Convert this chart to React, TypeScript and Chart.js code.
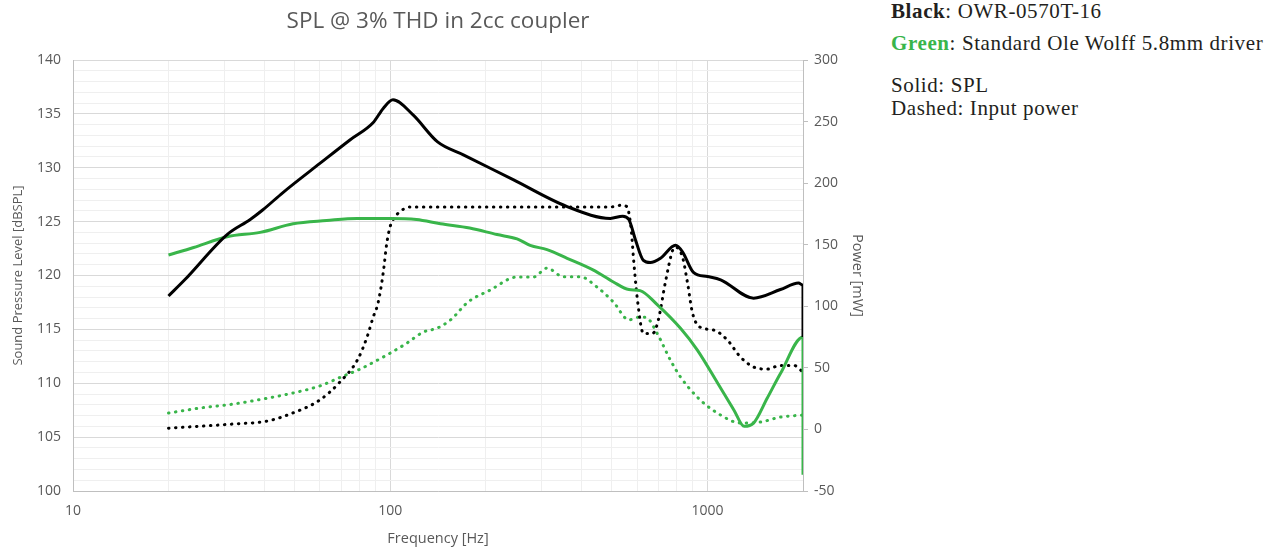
import React, { useEffect, useRef } from "react";
import { Chart, registerables } from "chart.js";

Chart.register(...registerables);

// ---- Data ----
const blackSplFreq = [20, 22.5, 30.6, 36.2, 39.7, 45.9, 60, 74.8, 88.4, 95, 102, 118, 141, 170, 244, 361, 494, 540, 565, 593, 628, 660, 711, 793, 834, 903, 1000, 1100, 1397, 1698, 1936, 2000, 2000];
const blackSplDb = [118.1, 119.6, 123.8, 125.2, 126.1, 127.7, 130.4, 132.6, 134.2, 135.5, 136.3, 134.9, 132.4, 131.2, 128.9, 126.4, 125.3, 125.5, 125.2, 123.3, 121.4, 121.2, 121.6, 122.8, 122.2, 120.3, 119.9, 119.6, 117.9, 118.7, 119.3, 119.1, 114.3];

const greenSplFreq = [20, 24, 30.6, 38.9, 49.4, 63, 78.7, 100, 121, 144, 178, 217, 251, 276, 312, 361, 437, 505, 565, 613, 694, 822, 928, 1077, 1212, 1305, 1397, 1542, 1698, 2000, 2000];
const greenSplDb = [121.9, 122.6, 123.6, 124.0, 124.8, 125.1, 125.3, 125.3, 125.2, 124.8, 124.4, 123.8, 123.4, 122.8, 122.4, 121.6, 120.5, 119.4, 118.7, 118.6, 117.3, 115.1, 113.1, 110.0, 107.5, 106.0, 106.3, 108.6, 110.9, 114.3, 101.5];

const blackPowFreq = [20, 32, 41, 48.3, 60, 69.4, 78.8, 84.5, 88.3, 91.5, 95, 97.5, 100, 103.5, 107, 115, 200, 300, 494, 532, 560, 565, 575, 585, 600, 628, 672, 700, 736, 777, 793, 834, 865, 897, 948, 1046, 1155, 1270, 1397, 1542, 1698, 1872, 2000];
const blackPowMw = [1, 4.4, 6.8, 12.5, 23.9, 38.5, 56.4, 75, 91, 102.6, 127, 151, 165, 172.5, 176.6, 180.6, 180.6, 180.6, 180.6, 182, 180.6, 176, 162, 137.6, 107.5, 78, 78, 89, 119, 145.7, 148, 140, 119, 94.5, 83, 80.7, 72.6, 58.8, 50.7, 49, 52, 52, 46.5];

const greenPowFreq = [20, 25.2, 32, 39.7, 49.4, 60, 70, 80.3, 95, 100, 112.7, 127, 141, 155, 176, 206, 251, 283, 312, 351, 397, 448, 505, 565, 613, 645, 694, 765, 822, 948, 1100, 1270, 1468, 1698, 2000];
const greenPowMw = [13.3, 17.4, 20.6, 24.7, 29.6, 35.3, 42.6, 49, 58.8, 62, 70, 79, 82.4, 89, 103.5, 113, 123.8, 123.8, 131, 124, 124, 115.7, 103.5, 89, 91.3, 90.5, 78, 56, 42.6, 24, 11.7, 5.2, 6, 10, 11.7];

const xTickValues = [10, 20, 30, 40, 50, 60, 70, 80, 90, 100, 200, 300, 400, 500, 600, 700, 800, 900, 1000, 2000];
const xLabelValues = [10, 100, 1000];

const BLACK = "#000000";
const GREEN = "#39b54a";
const TEXT = "#595959";
const GRID_MINOR = "#efefef";
const GRID_MAJOR = "#d9d9d9";
const AXIS = "#bfbfbf";

const pts = (xs: number[], ys: number[]) => xs.map((x, i) => ({ x, y: ys[i] }));

export default function App() {
  const ref = useRef<HTMLCanvasElement | null>(null);

  useEffect(() => {
    if (!ref.current) return;
    const sans = "'Open Sans', 'Noto Sans', sans-serif";
    const chart = new Chart(ref.current, {
      type: "line",
      data: {
        datasets: [
          {
            label: "Black SPL",
            data: pts(blackSplFreq, blackSplDb),
            yAxisID: "y",
            borderColor: BLACK,
            borderWidth: 3,
            pointRadius: 0,
            cubicInterpolationMode: "monotone",
            order: 0,
          },
          {
            label: "Green SPL",
            data: pts(greenSplFreq, greenSplDb),
            yAxisID: "y",
            borderColor: GREEN,
            borderWidth: 3,
            pointRadius: 0,
            cubicInterpolationMode: "monotone",
            order: 1,
          },
          {
            label: "Black power",
            data: pts(blackPowFreq, blackPowMw),
            yAxisID: "y2",
            borderColor: BLACK,
            borderWidth: 3,
            borderDash: [0.5, 6.5],
            borderCapStyle: "round",
            pointRadius: 0,
            cubicInterpolationMode: "monotone",
            order: 2,
          },
          {
            label: "Green power",
            data: pts(greenPowFreq, greenPowMw),
            yAxisID: "y2",
            borderColor: GREEN,
            borderWidth: 3,
            borderDash: [0.5, 6.5],
            borderCapStyle: "round",
            pointRadius: 0,
            cubicInterpolationMode: "monotone",
            order: 3,
          },
        ],
      },
      options: {
        responsive: false,
        animation: false,
        layout: { padding: 0 },
        plugins: {
          legend: { display: false },
          tooltip: { enabled: false },
          title: {
            display: true,
            text: "SPL @ 3% THD in 2cc coupler",
            color: TEXT,
            font: { family: sans, size: 22.5, weight: "normal" },
            padding: { top: 8, bottom: 25 },
          },
        },
        scales: {
          x: {
            type: "logarithmic",
            min: 10,
            max: 2000,
            afterBuildTicks: (scale: any) => {
              scale.ticks = xTickValues.map((v) => ({ value: v }));
            },
            afterFit: (scale: any) => {
              scale.height = 58;
            },
            ticks: {
              autoSkip: false,
              maxRotation: 0,
              color: TEXT,
              font: { family: sans, size: 14 },
              padding: 12,
              callback: (v: any) => (xLabelValues.includes(Number(v)) ? String(v) : ""),
            },
            grid: {
              drawTicks: false,
              color: (ctx: any) =>
                ctx.tick && xLabelValues.includes(ctx.tick.value) ? GRID_MAJOR : GRID_MINOR,
            },
            border: { color: AXIS },
            title: {
              display: true,
              text: "Frequency [Hz]",
              color: TEXT,
              font: { family: sans, size: 14.5 },
              padding: { top: 0, bottom: 1 },
            },
          },
          y: {
            type: "linear",
            position: "left",
            min: 100,
            max: 140,
            afterFit: (scale: any) => {
              scale.width = 73;
            },
            ticks: {
              stepSize: 1,
              autoSkip: false,
              color: TEXT,
              font: { family: sans, size: 14 },
              padding: 12,
              callback: (v: any) => (Number(v) % 5 === 0 ? String(v) : ""),
            },
            grid: {
              drawTicks: false,
              color: (ctx: any) =>
                ctx.tick && ctx.tick.value % 5 === 0 ? GRID_MAJOR : GRID_MINOR,
            },
            border: { color: AXIS },
            title: {
              display: true,
              text: "Sound Pressure Level [dBSPL]",
              color: TEXT,
              font: { family: sans, size: 13 },
              padding: { top: 10, bottom: 0 },
            },
          },
          y2: {
            type: "linear",
            position: "right",
            min: -50,
            max: 300,
            afterFit: (scale: any) => {
              scale.width = 73;
            },
            ticks: {
              stepSize: 50,
              color: TEXT,
              font: { family: sans, size: 14 },
              padding: 6,
            },
            grid: {
              drawOnChartArea: false,
              drawTicks: true,
              tickLength: 5,
              color: AXIS,
            },
            border: { color: AXIS },
            title: {
              display: true,
              text: "Power [mW]",
              color: TEXT,
              font: { family: sans, size: 14.5 },
              padding: { top: 10, bottom: 0 },
            },
          },
        },
      },
    });
    return () => chart.destroy();
  }, []);

  const serif = "'Liberation Serif', 'Times New Roman', serif";
  const line: React.CSSProperties = {
    position: "absolute",
    left: 891,
    fontFamily: serif,
    fontSize: 21,
    letterSpacing: "0.6px",
    lineHeight: "20px",
    color: "#231f20",
    whiteSpace: "nowrap",
  };

  return (
    <div style={{ position: "absolute", left: 0, top: 0, width: 1283, height: 549, background: "#fff" }}>
      <canvas ref={ref} width={876} height={549} style={{ position: "absolute", left: 0, top: 0 }} />
      <div style={{ ...line, top: 1 }}>
        <b>Black</b>: OWR-0570T-16
      </div>
      <div style={{ ...line, top: 33 }}>
        <b style={{ color: GREEN }}>Green</b>: Standard Ole Wolff 5.8mm driver
      </div>
      <div style={{ ...line, top: 75 }}>Solid: SPL</div>
      <div style={{ ...line, top: 98 }}>Dashed: Input power</div>
    </div>
  );
}
